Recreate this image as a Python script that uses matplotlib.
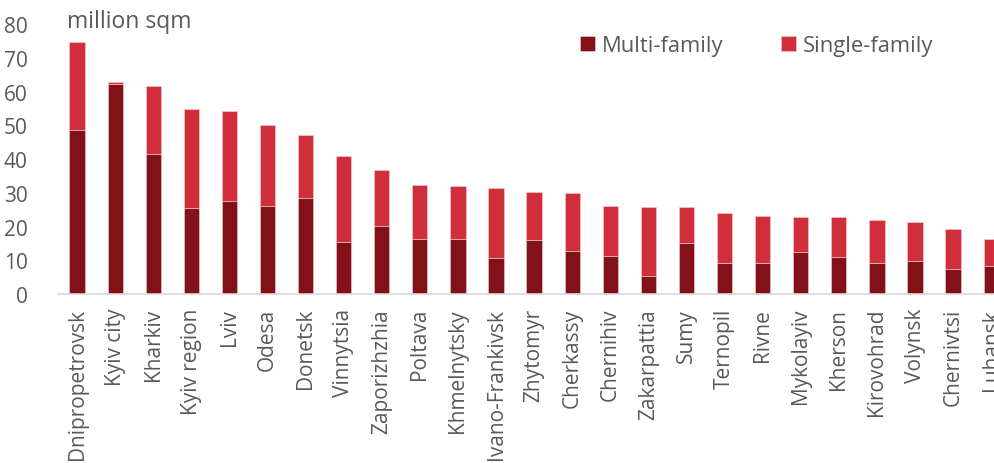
import matplotlib
matplotlib.use("Agg")
import matplotlib.pyplot as plt
import numpy as np

regions = ["Dnipropetrovsk", "Kyiv city", "Kharkiv", "Kyiv region", "Lviv", "Odesa",
           "Donetsk", "Vinnytsia", "Zaporizhzhia", "Poltava", "Khmelnytsky",
           "Ivano-Frankivsk", "Zhytomyr", "Cherkassy", "Chernihiv", "Zakarpattia",
           "Sumy", "Ternopil", "Rivne", "Mykolayiv", "Kherson", "Kirovohrad",
           "Volynsk", "Chernivtsi", "Luhansk"]
multi_family = [48.6, 62.2, 41.5, 25.4, 27.6, 26.1, 28.5, 15.3, 20.2, 16.2, 16.2,
                10.6, 15.9, 12.7, 11.4, 5.4, 15.0, 9.3, 9.3, 12.6, 10.9, 9.3,
                9.7, 7.3, 8.2]
total = [74.6, 62.8, 61.7, 54.9, 54.3, 50.2, 47.1, 41.0, 36.7, 32.2, 32.0,
         31.4, 30.2, 30.0, 26.2, 25.9, 25.7, 24.0, 23.1, 22.9, 22.9, 22.0,
         21.3, 19.2, 16.3]
single_family = [round(t - m, 1) for t, m in zip(total, multi_family)]
yticks = [0, 10, 20, 30, 40, 50, 60, 70, 80]

plt.rcParams['font.family'] = ['Open Sans', 'DejaVu Sans']
gray = "#595959"
c_multi = "#83111A"
c_single = "#D02E3A"

fig = plt.figure(figsize=(9.95, 4.64), dpi=100)
ax = fig.add_axes([0.0583, 0.364, 0.957, 0.582])

x = np.arange(len(regions))
w = 0.4
ax.bar(x, multi_family, w, color=c_multi, edgecolor="#F2D0D2", linewidth=0.4,
       label="Multi-family")
ax.bar(x, single_family, w, bottom=multi_family, color=c_single,
       edgecolor="#F2D0D2", linewidth=0.4, label="Single-family")

ax.set_xlim(-0.5, len(regions) - 0.5)
ax.set_ylim(0, 80)
ax.set_yticks(yticks)
ax.set_yticklabels([str(v) for v in yticks], fontsize=15, color=gray)
ax.set_xticks(x)
ax.set_xticklabels(regions, rotation=90, fontsize=15, color=gray, va="top")
ax.tick_params(axis="both", length=0)
ax.tick_params(axis="y", pad=22)
ax.tick_params(axis="x", pad=10)
for s in ["top", "right", "left"]:
    ax.spines[s].set_visible(False)
ax.spines["bottom"].set_color("#D9D9D9")
ax.spines["bottom"].set_linewidth(1.2)

fig.text(67 / 995, 1 - 22 / 464, "million sqm", fontsize=16.5, color=gray,
         va="center", ha="left")

leg = ax.legend(ncol=2, loc="center left", bbox_to_anchor=(0.539, 0.92),
                frameon=False, fontsize=15.8, handlelength=0.7, handleheight=0.7,
                handletextpad=0.3, columnspacing=2.6, borderaxespad=0)
for t in leg.get_texts():
    t.set_color(gray)

fig.savefig("out.png", dpi=100)
